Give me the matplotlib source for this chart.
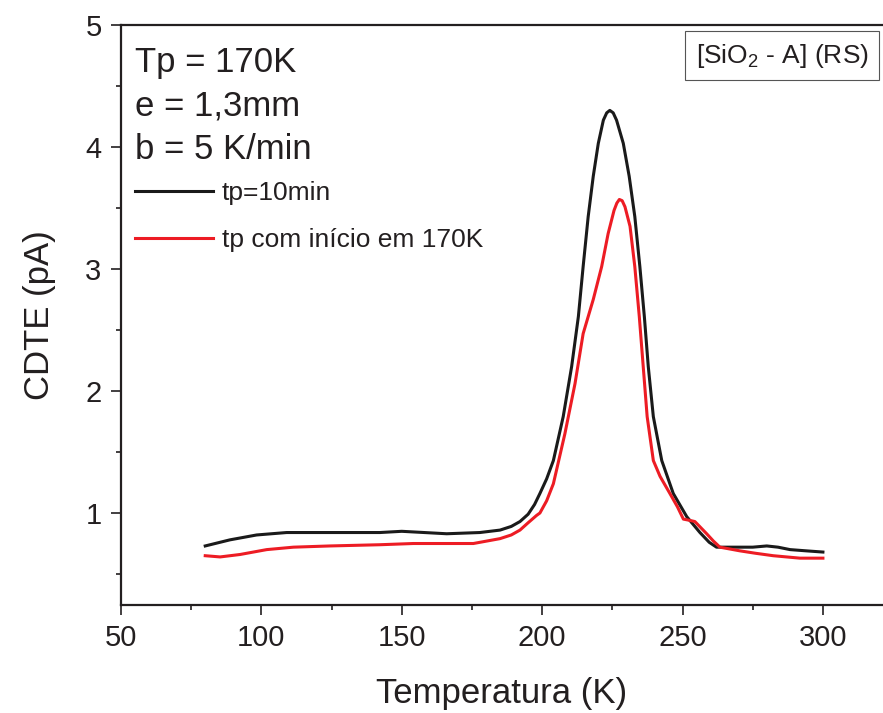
import matplotlib as mpl
mpl.use("Agg")
import matplotlib.pyplot as plt

plt.rcParams.update({
    "font.family": ["Liberation Sans", "DejaVu Sans"],
    "mathtext.fontset": "custom",
    "mathtext.rm": "Liberation Sans",
    "mathtext.it": "Liberation Sans",
    "text.color": "#231f20",
    "axes.labelcolor": "#231f20",
    "xtick.color": "#231f20",
    "ytick.color": "#231f20",
})

# tp = 10 min (black)
T_black = [80, 88.8, 98.3, 109, 125, 142.2, 150, 158, 166, 177.8, 185, 189, 192.1, 195, 197.3,
           199.2, 201.6, 204.0, 207.5, 210.5, 212.9, 214.6, 216.4, 218.2, 220.0, 221.8,
           223.0, 224.1, 225.3, 226.5, 228.9, 231.0, 233.0, 234.8, 236.4, 237.8, 239.6,
           242.6, 246.7, 251.5, 256.2, 259.5, 262.1, 266, 270.4, 275, 280, 284, 288.3,
           294, 300]
I_black = [0.73, 0.78, 0.82, 0.84, 0.84, 0.84, 0.85, 0.84, 0.83, 0.84, 0.86, 0.89, 0.93,
           0.99, 1.07, 1.16, 1.28, 1.43, 1.79, 2.20, 2.61, 3.02, 3.43, 3.76, 4.03, 4.22,
           4.28, 4.30, 4.28, 4.22, 4.03, 3.76, 3.43, 3.02, 2.61, 2.20, 1.79,
           1.43, 1.16, 0.97, 0.84, 0.76, 0.72, 0.72, 0.72, 0.72, 0.73, 0.72, 0.70,
           0.69, 0.68]

# tp com inicio em 170 K (red)
T_red = [80, 85.3, 92.4, 101.9, 111.4, 124.4, 142.2, 154.1, 166, 175.5, 185, 189, 192.1,
         195, 198, 199.2, 201.6, 204.0, 208.1, 211.7, 214.6, 218.2, 221.2, 223.5, 225.6,
         226.6, 227.5, 228.5, 229.5, 231.3, 233.0, 234.6, 236.0, 237.4, 239.6, 242.0,
         245.5, 248.2, 250.3, 252.5, 254.4, 256.5, 258.6, 261, 263.3, 270.4, 276, 282.3,
         291.8, 300]
I_red = [0.65, 0.64, 0.66, 0.70, 0.72, 0.73, 0.74, 0.75, 0.75, 0.75, 0.79, 0.82, 0.86,
         0.92, 0.98, 1.0, 1.10, 1.24, 1.65, 2.06, 2.47, 2.75, 3.02, 3.29, 3.48,
         3.54, 3.57, 3.56, 3.51, 3.35, 3.02, 2.61, 2.20, 1.79, 1.43, 1.30,
         1.16, 1.05, 0.95, 0.94, 0.93, 0.88, 0.83, 0.77, 0.72, 0.69, 0.67, 0.65,
         0.63, 0.63]

fig = plt.figure(figsize=(8.83, 7.13), dpi=100)
ax = fig.add_axes([121/883, 108/713, 762/883, 580/713])

ax.plot(T_black, I_black, c="#1a1a1a", lw=2.2, solid_joinstyle="round", label="tp=10min")
ax.plot(T_red, I_red, c="#ed1c24", lw=2.2, solid_joinstyle="round",
        label="tp com início em 170K")

ax.set_xlim(50, 321.4)
ax.set_ylim(0.246, 5)
ax.set_xticks([50, 100, 150, 200, 250, 300])
ax.set_xticks([75, 125, 175, 225, 275], minor=True)
ax.set_yticks([1, 2, 3, 4, 5])
ax.set_yticks([0.5, 1.5, 2.5, 3.5, 4.5], minor=True)
ax.tick_params(which="major", length=7, width=1.2, labelsize=21, pad=7)
ax.tick_params(which="minor", length=3.5, width=1.2)
ax.spines["right"].set_visible(False)
for s in ["left", "bottom", "top"]:
    ax.spines[s].set_linewidth(1.6)
    ax.spines[s].set_color("#231f20")

ax.set_xlabel("Temperatura (K)", fontsize=25, labelpad=18)
ax.set_ylabel("CDTE (pA)", fontsize=25, labelpad=21)

ax.text(0.018, 0.935, "Tp = 170K", transform=ax.transAxes, fontsize=25, va="center")
ax.text(0.018, 0.861, "e = 1,3mm", transform=ax.transAxes, fontsize=25, va="center")
ax.text(0.018, 0.786, "b = 5 K/min", transform=ax.transAxes, fontsize=25, va="center")

ax.legend(loc="upper left", bbox_to_anchor=(0.008, 0.745), frameon=False, fontsize=19,
          handlelength=2.95, handletextpad=0.35, labelspacing=0.87, borderpad=0.3,
          borderaxespad=0)

ax.text(0.868, 0.947, "[SiO$_2$ - A] (RS)", transform=ax.transAxes, fontsize=19,
        ha="center", va="center",
        bbox=dict(boxstyle="square,pad=0.4", fc="white", ec="#555555", lw=0.8))

fig.savefig("out.png", dpi=100)
